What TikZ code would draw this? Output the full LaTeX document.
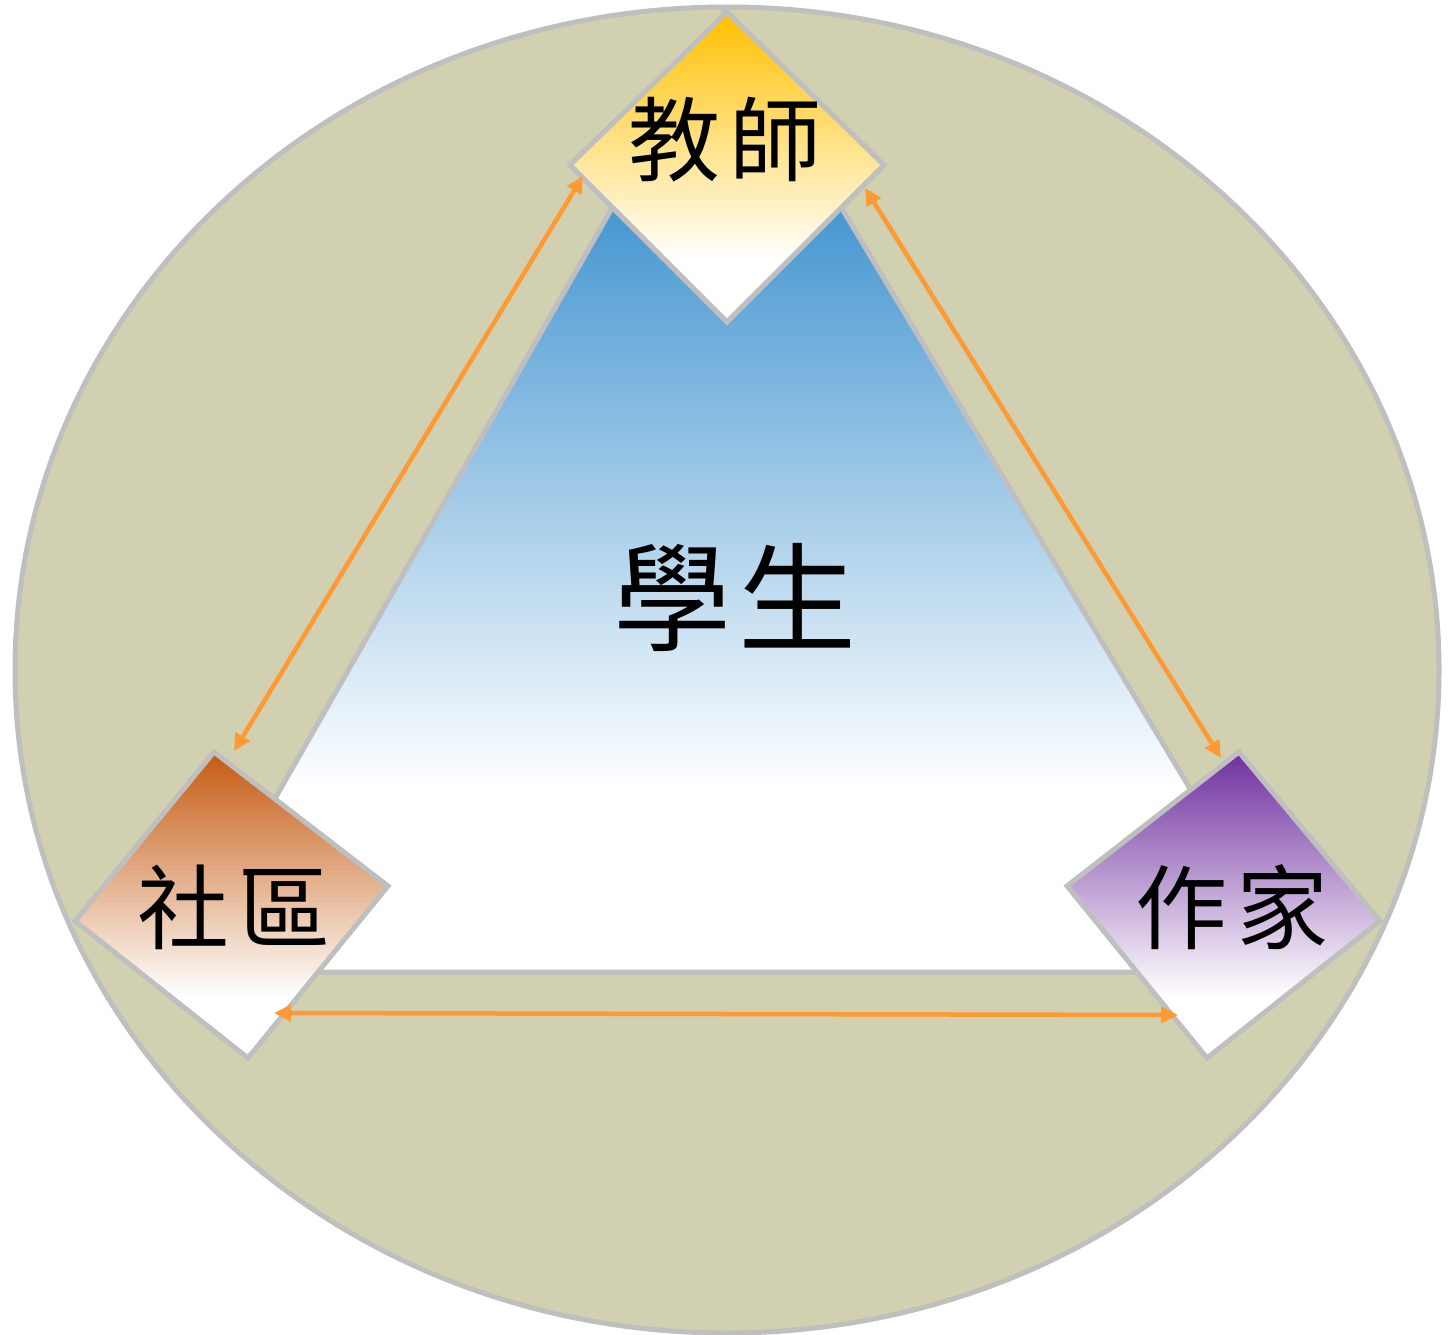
\documentclass[tikz,border=0pt]{standalone}
\usepackage{fontspec}
\newfontfamily\cjk{Noto Sans CJK TC}
\usetikzlibrary{arrows.meta}
\definecolor{bgfill}{HTML}{D1D0B1}
\definecolor{edgegray}{HTML}{BFBFBF}
\definecolor{gold}{HTML}{FFC000}
\definecolor{rust}{HTML}{C55A11}
\definecolor{plum}{HTML}{7030A0}
\definecolor{sky}{HTML}{4596D1}
\definecolor{skytop}{HTML}{3B8FCE}
\definecolor{arrcol}{HTML}{FF9933}
\pgfdeclareverticalshading{goldsh}{100bp}{color(0bp)=(white); color(35bp)=(white); color(75bp)=(gold); color(100bp)=(gold)}
\pgfdeclareverticalshading{rustsh}{100bp}{color(0bp)=(white); color(35bp)=(white); color(75bp)=(rust); color(100bp)=(rust)}
\pgfdeclareverticalshading{plumsh}{100bp}{color(0bp)=(white); color(35bp)=(white); color(75bp)=(plum); color(100bp)=(plum)}
\pgfdeclareverticalshading{skysh}{100bp}{color(0bp)=(white); color(34.5bp)=(white); color(65bp)=(sky); color(75bp)=(skytop); color(100bp)=(skytop)}
\tikzset{
  outline/.style={draw=edgegray, line width=5pt, line join=miter},
  label/.style={font=\cjk\fontsize{92}{100}\selectfont, inner sep=0pt},
  biglabel/.style={font=\cjk\fontsize{118}{125}\selectfont, inner sep=0pt},
  link/.style={draw=arrcol, line width=4.5pt, {Triangle[length=17pt,width=16pt]}-{Triangle[length=17pt,width=16pt]}}
}
\begin{document}
\begin{tikzpicture}[x=1pt,y=-1pt]
\useasboundingbox (0,0) rectangle (1449,1335);
% background ellipse
\path[outline, fill=bgfill] (727,670) ellipse [x radius=712, y radius=663];
% student triangle
\shadedraw[outline, shading=skysh] (724,12) -- (1300,972) -- (176,972) -- cycle;
\node[biglabel] (student) at (735,598) {學\hspace{8pt}生};
% teacher diamond
\coordinate (tT) at (727,12);
\coordinate (tR) at (884,165);
\coordinate (tB) at (727,322);
\coordinate (tL) at (570,165);
\shadedraw[outline, shading=goldsh] (tT) -- (tR) -- (tB) -- (tL) -- cycle;
\node[label] (teacher) at (725,140) {教\hspace{10pt}師};
% community diamond
\coordinate (cT) at (214,752);
\coordinate (cR) at (388,886);
\coordinate (cB) at (248,1058);
\coordinate (cL) at (75,921);
\shadedraw[outline, shading=rustsh] (cT) -- (cR) -- (cB) -- (cL) -- cycle;
\node[label] (community) at (234,907) {社\hspace{10pt}區};
% writer diamond
\coordinate (wT) at (1239,752);
\coordinate (wR) at (1380,921);
\coordinate (wB) at (1207,1058);
\coordinate (wL) at (1067,886);
\shadedraw[outline, shading=plumsh] (wT) -- (wR) -- (wB) -- (wL) -- cycle;
\node[label] (writer) at (1232,907) {作\hspace{10pt}家};
% connector end points
\coordinate (aTL) at (583,176);
\coordinate (aCT) at (234,751);
\coordinate (aTR) at (865,188);
\coordinate (aWT) at (1221,758);
\coordinate (aCB) at (274,1013);
\coordinate (aWB) at (1178,1015);
\draw[link] (aTL) -- (aCT);
\draw[link] (aTR) -- (aWT);
\draw[link] (aCB) -- (aWB);
\end{tikzpicture}
\end{document}
